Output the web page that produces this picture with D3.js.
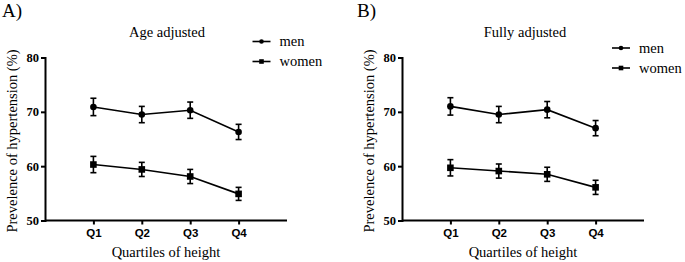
<!DOCTYPE html>
<html>
<head>
<meta charset="utf-8">
<script src="https://cdn.jsdelivr.net/npm/d3@7"></script>
<style>
  body { margin: 0; background: #fff; }
</style>
</head>
<body>
<script>
var quartiles = ["Q1", "Q2", "Q3", "Q4"];
var yTicks = [50, 60, 70, 80];

// panel A: age adjusted
var menAge = [70.9, 69.5, 70.3, 66.3];
var menAgeErr = [1.6, 1.5, 1.5, 1.4];
var womenAge = [60.3, 59.4, 58.1, 54.9];
var womenAgeErr = [1.5, 1.3, 1.3, 1.2];

// panel B: fully adjusted
var menFull = [71.0, 69.5, 70.4, 67.0];
var menFullErr = [1.6, 1.5, 1.5, 1.4];
var womenFull = [59.7, 59.1, 58.5, 56.1];
var womenFullErr = [1.5, 1.3, 1.3, 1.3];

var SERIF = "Liberation Serif";
var SANS = "Liberation Sans";

var svg = d3.select("body").append("svg")
    .attr("width", 685)
    .attr("height", 262);

function drawPanel(opt) {
    var g = svg.append("g").attr("transform", `translate(${opt.left}, 0)`);
    var top = 57.5, bottom = 220.5, axisW = 242;

    var x = d3.scaleLinear().domain([0, 5]).range([0, axisW]);
    var y = d3.scaleLinear().domain([50, 80]).range([bottom, top]);

    // panel letter
    g.append("text").style("font-family", SERIF)
        .attr("x", opt.letterX).attr("y", 17)
        .style("font-size", "19px")
        .text(opt.letter);

    // title
    g.append("text").style("font-family", SERIF)
        .attr("x", opt.titleX).attr("y", 37)
        .attr("text-anchor", "middle")
        .style("font-size", "14.5px")
        .text(opt.title);

    // y axis
    var yAxis = g.append("g")
        .call(d3.axisLeft(y).tickValues(yTicks).tickSize(4).tickPadding(2));
    yAxis.selectAll("text")
        .style("font-family", SERIF)
        .style("font-size", "12.5px")
        .style("font-weight", "bold")
        .attr("fill", "#000");

    // x axis
    var xAxis = g.append("g")
        .attr("transform", `translate(0, ${bottom})`)
        .call(d3.axisBottom(x).tickValues([1, 2, 3, 4])
            .tickFormat((d, i) => quartiles[i]).tickSize(4).tickSizeOuter(0).tickPadding(4));
    xAxis.selectAll("text")
        .style("font-family", SANS)
        .style("font-size", "11.5px")
        .style("font-weight", "bold")
        .attr("fill", "#000");
    // x axis line ends at the domain end
    xAxis.select(".domain").attr("d", `M0,0H${axisW}`);

    g.selectAll(".domain, .tick line")
        .attr("stroke", "#000")
        .attr("stroke-width", 2);

    // axis titles
    g.append("text").style("font-family", SERIF)
        .attr("transform", `translate(-28, ${(top + bottom) / 2 + 2}) rotate(-90)`)
        .attr("text-anchor", "middle")
        .style("font-size", "14.5px")
        .text("Prevelence of hypertension (%)");

    g.append("text").style("font-family", SERIF)
        .attr("x", x(2.5)).attr("y", 257)
        .attr("text-anchor", "middle")
        .style("font-size", "14.5px")
        .text("Quartiles of height");

    var line = d3.line().x((d, i) => x(i + 1)).y(d => y(d));

    function series(vals, errs, shape) {
        g.append("path")
            .datum(vals)
            .attr("d", line)
            .attr("fill", "none")
            .attr("stroke", "#000")
            .attr("stroke-width", 1.6);

        var eb = g.append("g");
        vals.forEach((v, i) => {
            var cx = x(i + 1);
            eb.append("line")
                .attr("x1", cx).attr("x2", cx)
                .attr("y1", y(v - errs[i])).attr("y2", y(v + errs[i]))
                .attr("stroke", "#000").attr("stroke-width", 1.6);
            [v - errs[i], v + errs[i]].forEach(e => {
                eb.append("line")
                    .attr("x1", cx - 3).attr("x2", cx + 3)
                    .attr("y1", y(e)).attr("y2", y(e))
                    .attr("stroke", "#000").attr("stroke-width", 1.6);
            });
        });

        if (shape === "circle") {
            g.selectAll(null).data(vals).enter().append("circle")
                .attr("cx", (d, i) => x(i + 1))
                .attr("cy", d => y(d))
                .attr("r", 3.3)
                .attr("fill", "#000");
        } else {
            g.selectAll(null).data(vals).enter().append("rect")
                .attr("x", (d, i) => x(i + 1) - 3.3)
                .attr("y", d => y(d) - 3.3)
                .attr("width", 6.6).attr("height", 6.6)
                .attr("fill", "#000");
        }
    }

    series(opt.men, opt.menErr, "circle");
    series(opt.women, opt.womenErr, "square");

    // legend
    var leg = g.append("g").attr("transform", `translate(${opt.legX}, ${opt.legY})`);
    [["men", "circle"], ["women", "square"]].forEach((d, i) => {
        var row = leg.append("g").attr("transform", `translate(0, ${i * 20})`);
        row.append("line")
            .attr("x1", 0).attr("x2", 18)
            .attr("stroke", "#000").attr("stroke-width", 1.6);
        if (d[1] === "circle") {
            row.append("circle").attr("cx", 9).attr("r", 2.3).attr("fill", "#000");
        } else {
            row.append("rect").attr("x", 6.7).attr("y", -2.3)
                .attr("width", 4.6).attr("height", 4.6).attr("fill", "#000");
        }
        row.append("text").style("font-family", SERIF)
            .attr("x", 27).attr("y", 4.5)
            .style("font-size", "14.5px")
            .text(d[0]);
    });
}

drawPanel({
    left: 45, letter: "A)", letterX: -43, title: "Age adjusted", titleX: 122,
    men: menAge, menErr: menAgeErr, women: womenAge, womenErr: womenAgeErr,
    legX: 207.5, legY: 41.5
});

drawPanel({
    left: 402, letter: "B)", letterX: -45, title: "Fully adjusted", titleX: 123,
    men: menFull, menErr: menFullErr, women: womenFull, womenErr: womenFullErr,
    legX: 210, legY: 48
});
</script>
</body>
</html>
